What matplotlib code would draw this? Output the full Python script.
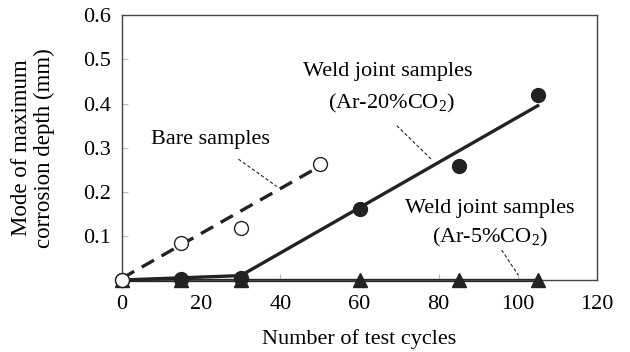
import numpy as np
import matplotlib.pyplot as plt

plt.rcParams['font.family'] = ['Liberation Serif', 'DejaVu Serif']
plt.rcParams['mathtext.fontset'] = 'custom'
plt.rcParams['mathtext.rm'] = 'Liberation Serif'

# measured points
cycles_bare = [0, 15, 30, 50]
depth_bare = [0.0, 0.083, 0.118, 0.263]
cycles_weld = [0, 15, 30, 60, 85, 105]
depth_ar20 = [0.0, 0.003, 0.005, 0.160, 0.258, 0.420]
depth_ar5 = [0.0, 0.0, 0.0, 0.0, 0.0, 0.0]

# fitted trend lines
fit_bare_x = [0, 50]
fit_bare_y = [0.004, 0.258]
fit_ar20_x = [0, 30, 105]
fit_ar20_y = [0.0, 0.01, 0.395]
fit_ar5_x = [0, 105]
fit_ar5_y = [0.0, 0.0]

xticks = [0, 20, 40, 60, 80, 100, 120]
yticks = [0.1, 0.2, 0.3, 0.4, 0.5, 0.6]

fig = plt.figure(figsize=(6.3, 3.52), dpi=100)
ax = fig.add_axes([0.1937, 0.2045, 0.754, 0.752])

dark = '#222222'
ax.plot(fit_ar5_x, fit_ar5_y, color=dark, lw=2.4, zorder=2, clip_on=False)
ax.plot(cycles_weld, depth_ar5, '^', color=dark, ms=10, zorder=3, clip_on=False)
ax.plot(fit_ar20_x, fit_ar20_y, color=dark, lw=2.4, zorder=4, clip_on=False)
ax.plot(cycles_weld, depth_ar20, 'o', color=dark, ms=10, zorder=5, clip_on=False)
ax.plot(fit_bare_x, fit_bare_y, color=dark, lw=2.4, ls=(0, (4.2, 2.6)), zorder=4)
ax.plot(cycles_bare, depth_bare, 'o', mfc='white', mec=dark, mew=1.0, ms=10,
        zorder=6, clip_on=False)

# labels with leader lines
fs = 16
lead = dict(color=dark, lw=0.8, ls=(0, (3, 2)))
ax.text(22.3, 0.318, 'Bare samples', ha='center', va='center', fontsize=fs)
ax.plot([29.4, 39.1], [0.274, 0.212], **lead)
ax.text(67, 0.473, 'Weld joint samples', ha='center', va='center', fontsize=fs)
ax.text(68.2, 0.401, r'(Ar-20%CO$_\mathrm{2}$)', ha='center', va='center', fontsize=fs)
ax.plot([69.4, 78.2], [0.35, 0.273], **lead)
ax.text(93, 0.163, 'Weld joint samples', ha='center', va='center', fontsize=fs)
ax.text(93, 0.097, r'(Ar-5%CO$_\mathrm{2}$)', ha='center', va='center', fontsize=fs)
ax.plot([95.9, 100.1], [0.068, 0.011], **lead)

ax.set_xlim(0, 120)
ax.set_ylim(0, 0.6)
ax.set_xticks(xticks)
ax.set_xticklabels([str(v) for v in xticks])
ax.set_yticks(yticks)
ax.set_yticklabels([f'{v:.1f}' for v in yticks])
ax.tick_params(direction='in', length=4, color='#bbbbbb', labelsize=16, pad=8)
ax.tick_params(axis='x', pad=11)
for s in ax.spines.values():
    s.set_color('#444444')
    s.set_linewidth(1.0)

ax.set_xlabel('Number of test cycles', fontsize=16, labelpad=11)
ax.set_ylabel('Mode of maximum\ncorrosion depth (mm)', fontsize=16.5, labelpad=20,
              linespacing=1.12)

fig.savefig('out.png', dpi=100)
